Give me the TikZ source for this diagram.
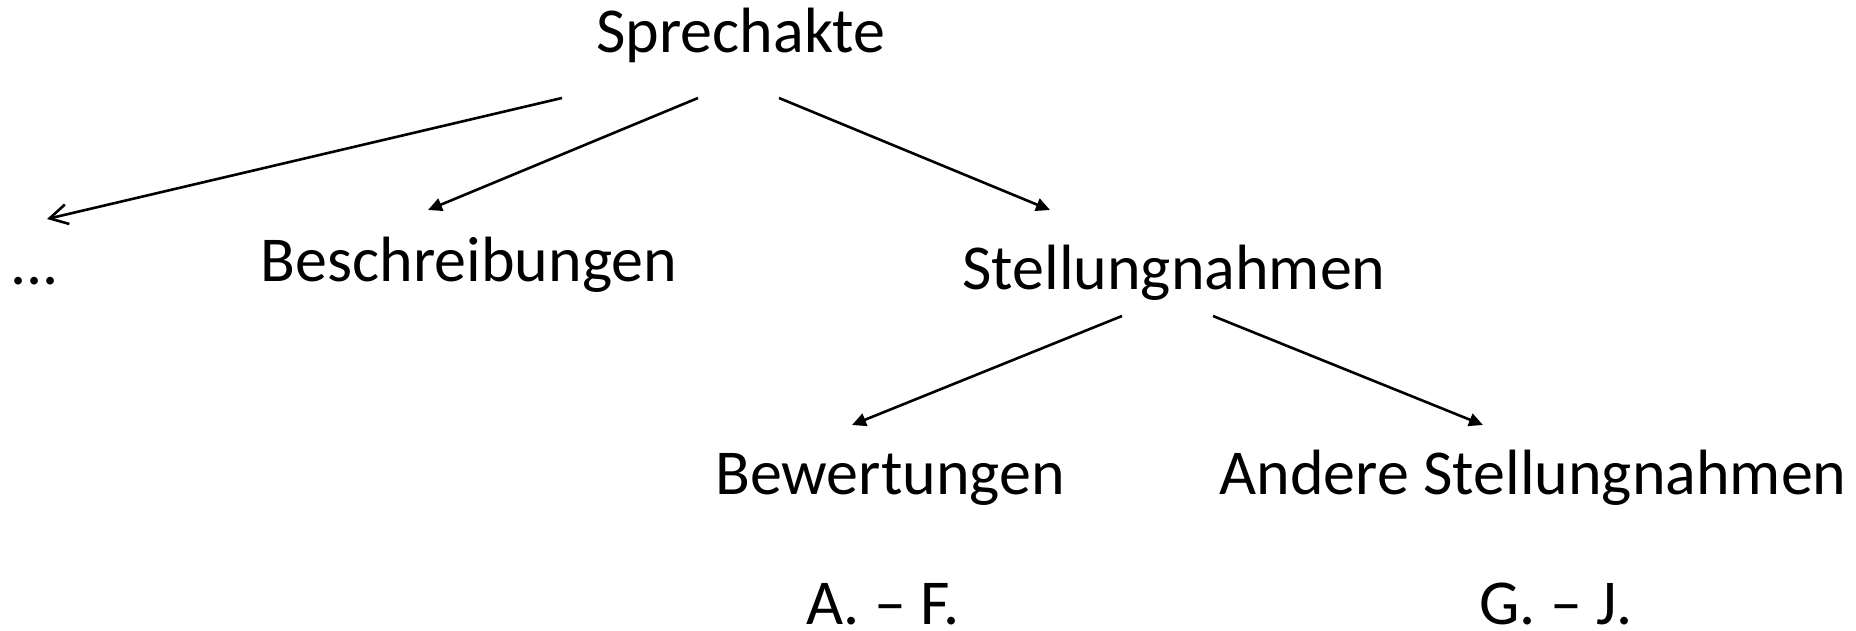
\documentclass[tikz,border=0pt]{standalone}
\usepackage{fontspec}
\setmainfont{Carlito}
\usetikzlibrary{arrows.meta}
\begin{document}
\begin{tikzpicture}[x=1pt,y=-1pt,
  lbl/.style={anchor=base,inner sep=0pt,font=\fontsize{64}{70}\selectfont},
  conn/.style={line width=2.6pt,-{Triangle[length=14pt,width=13pt]}},
  openconn/.style={line width=2.6pt,-{Straight Barb[length=18pt,width=20pt,line width=2.6pt]}}]
\useasboundingbox (0,0) rectangle (1856,631);
\node[lbl] (sp) at (741,53) {Sprechakte};
\node[lbl,anchor=base west] (dots) at (10,284) {...};
\node[lbl] (be) at (469,282) {Beschreibungen};
\node[lbl] (st) at (1174,290) {Stellungnahmen};
\node[lbl] (bw) at (890,494) {Bewertungen};
\node[lbl] (an) at (1533,494) {Andere Stellungnahmen};
\node[lbl,text depth=0pt] (af) at (883,624) {A. – F.};
\node[lbl,text depth=0pt] (gj) at (1556,624) {G. – J.};
\coordinate (s1) at (562,98);
\coordinate (e1) at (47,219);
\coordinate (s2) at (698,98);
\coordinate (e2) at (428,210);
\coordinate (s3) at (779,98);
\coordinate (e3) at (1050,210);
\coordinate (s4) at (1122,316);
\coordinate (e4) at (852,425);
\coordinate (s5) at (1213,316);
\coordinate (e5) at (1483,425);
\draw[openconn] (s1) -- (e1);
\draw[conn] (s2) -- (e2);
\draw[conn] (s3) -- (e3);
\draw[conn] (s4) -- (e4);
\draw[conn] (s5) -- (e5);
\end{tikzpicture}
\end{document}
